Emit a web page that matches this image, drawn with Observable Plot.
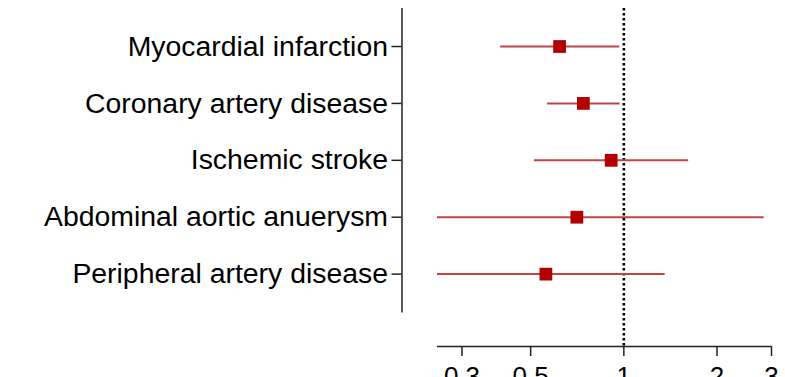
<!DOCTYPE html>
<html>
<head>
<meta charset="utf-8">
<script src="https://cdn.jsdelivr.net/npm/d3@7"></script>
<script src="https://cdn.jsdelivr.net/npm/@observablehq/plot@0.6"></script>
<style>
  html, body { margin: 0; padding: 0; background: #fff; }
  #chart svg { display: block; }
</style>
</head>
<body>
<div id="chart"></div>
<script>
// Data
const categories = [
  "Myocardial infarction",
  "Coronary artery disease",
  "Ischemic stroke",
  "Abdominal aortic anuerysm",
  "Peripheral artery disease"
];
const estimates = [0.62, 0.74, 0.91, 0.705, 0.56];
const lower     = [0.40, 0.567, 0.514, 0.25, 0.25];
const upper     = [0.97, 0.973, 1.62, 2.84, 1.36];
const xTicks = [0.3, 0.5, 1, 2, 3];
const xDomain = [0.25, 3];
// row index limits (axis extent and plotting region)
const yDomain = [0.332, 6.272];
const yAxisExtent = [0.332, 5.685];
const refLine = [1];

const rows = categories.map((c, i) => ({
  cat: c, idx: i + 1, est: estimates[i], lo: lower[i], hi: upper[i]
}));

const font = "'Liberation Sans', Arial, Helvetica, sans-serif";

const chart = Plot.plot({
  width: 785,
  height: 377,
  marginLeft: 437,
  marginRight: 14,
  marginTop: 8,
  marginBottom: 31,
  style: { fontFamily: font, background: "#fff", color: "#000" },
  x: { type: "log", domain: xDomain, axis: null },
  y: { type: "linear", domain: yDomain, reverse: true, axis: null },
  marks: [
    // x axis line and ticks
    Plot.ruleY([yDomain[1]], { stroke: "#222", strokeWidth: 1.5 }),
    Plot.axisX({
      ticks: xTicks, anchor: "bottom", tickSize: 10, tickPadding: 10.5, fontSize: 26,
      label: null, tickFormat: d => String(d), stroke: "#222", strokeWidth: 1.5
    }),
    // y axis line (detached to the left)
    Plot.ruleX([xDomain[0]], {
      y1: yAxisExtent[0], y2: yAxisExtent[1], dx: -35.5,
      stroke: "#222", strokeWidth: 1.5
    }),
    Plot.axisY({
      ticks: rows.map(r => r.idx),
      anchor: "left", dx: -35.5, tickSize: 10, tickPadding: 4, fontSize: 28.4,
      tickFormat: i => categories[i - 1], label: null,
      stroke: "#222", strokeWidth: 1.5
    }),
    // reference line
    Plot.ruleX(refLine, {
      stroke: "#000", strokeWidth: 2.6, strokeDasharray: "2.6,2.4"
    }),
    // confidence intervals
    Plot.ruleY(rows, {
      y: "idx", x1: "lo", x2: "hi", stroke: "#c04444", strokeWidth: 2
    }),
    // point estimates
    Plot.dot(rows, {
      x: "est", y: "idx", symbol: "square", r: 7.2, fill: "#b20000", stroke: null
    })
  ]
});

document.getElementById("chart").appendChild(chart);
</script>
</body>
</html>
